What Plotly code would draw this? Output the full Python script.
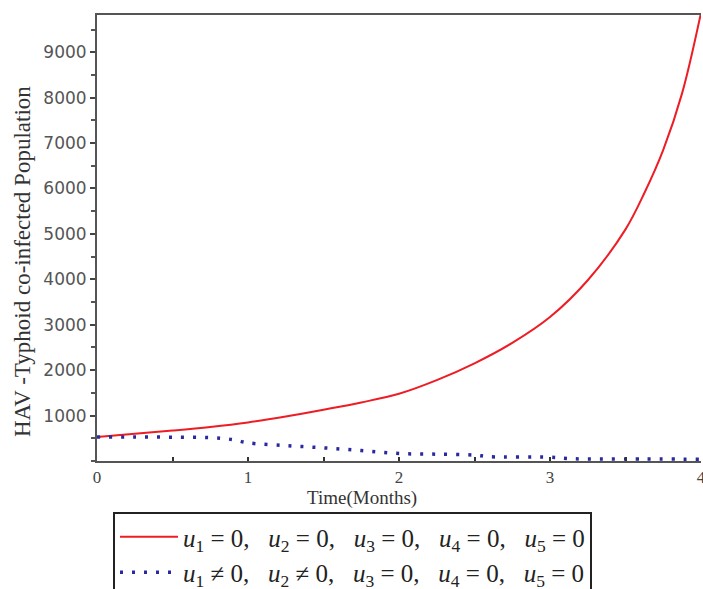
import plotly.graph_objects as go

# Time in months
t_no_control = [0, 0.25, 0.5, 0.75, 1.0, 1.25, 1.5, 1.75, 2.0, 2.25, 2.5, 2.75,
                3.0, 3.25, 3.5, 3.625, 3.75, 3.875, 4.0]
# Co-infected population without any control
pop_no_control = [530, 600, 670, 750, 850, 980, 1130, 1290, 1480, 1780, 2150, 2600,
                  3170, 3980, 5100, 5900, 6850, 8100, 9870]

t_control = [0, 0.25, 0.5, 0.75, 0.9, 1.0, 1.25, 1.5, 1.75, 2.0, 2.25, 2.5,
             2.6, 3.0, 3.15, 3.5, 4.0]
# Co-infected population with u1, u2 active
pop_control = [530, 530, 525, 515, 470, 400, 340, 290, 230, 165, 150, 130,
               95, 85, 50, 45, 40]

sp = "&nbsp;"
gap = "&nbsp;" * 3


def control_label(rel1, rel2):
    parts = [
        f"<i>u</i><sub>1</sub>{sp}{rel1}{sp}0",
        f"<i>u</i><sub>2</sub>{sp}{rel2}{sp}0",
        f"<i>u</i><sub>3</sub>{sp}={sp}0",
        f"<i>u</i><sub>4</sub>{sp}={sp}0",
        f"<i>u</i><sub>5</sub>{sp}={sp}0",
    ]
    return ("," + gap).join(parts)


label_a = control_label("=", "=")
label_b = control_label("≠", "≠")

x_ticks = [0, 1, 2, 3, 4]
y_ticks = [1000, 2000, 3000, 4000, 5000, 6000, 7000, 8000, 9000]

fig = go.Figure()
fig.add_trace(go.Scatter(x=t_no_control, y=pop_no_control, mode="lines",
                         line=dict(color="#ee1c24", width=2, shape="spline"),
                         name=label_a))
fig.add_trace(go.Scatter(x=t_control, y=pop_control, mode="lines",
                         line=dict(color="#2a2aa0", width=3.5, dash="3px,9px",
                                   shape="spline"),
                         name=label_b))

serif = "Liberation Serif, Times New Roman, serif"

L, R, T, B = 97, 2, 15, 128
W, H = 703, 589
pw, ph = W - L - R, H - T - B

fig.update_layout(
    width=W, height=H,
    margin=dict(l=L, r=R, t=T, b=B, autoexpand=False),
    paper_bgcolor="white", plot_bgcolor="white",
    showlegend=True,
    legend=dict(
        x=(113 - L) / pw, y=(T + ph - 512) / ph, xanchor="left", yanchor="top",
        bordercolor="#222", borderwidth=2, bgcolor="white",
        font=dict(family=serif, size=25, color="#222"),
        itemwidth=58, tracegroupgap=0,
    ),
    xaxis=dict(
        range=[0, 4], tickvals=x_ticks, ticktext=[str(v) for v in x_ticks],
        ticks="inside", ticklen=4, tickwidth=2, tickcolor="#333",
        minor=dict(dtick=0.5, ticks="inside", ticklen=4, tickcolor="#333"),
        showgrid=False, zeroline=False,
        showline=True, linecolor="#555", linewidth=2, mirror=True,
        ticklabeloverflow="allow",
        tickfont=dict(family=serif, size=17, color="#444"),
    ),
    yaxis=dict(
        range=[0, 9820], tickvals=y_ticks,
        ticks="outside", ticklen=5, tickwidth=2, tickcolor="#444",
        minor=dict(dtick=500, tick0=0, ticks="outside", ticklen=4, tickcolor="#555"),
        showgrid=False, zeroline=False,
        showline=True, linecolor="#555", linewidth=2, mirror=False,
        tickfont=dict(family="DejaVu Sans, Verdana, sans-serif", size=17, color="#555"),
    ),
    annotations=[
        dict(text="Time(Months)", x=(362 - L) / pw, xref="paper",
             y=(T + ph - 498) / ph, yref="paper", yanchor="middle",
             showarrow=False, font=dict(family=serif, size=19, color="#333")),
        dict(text="HAV -Typhoid co-infected Population", textangle=-90,
             x=(22 - L) / pw, xref="paper", y=(T + ph - 262) / ph, yref="paper",
             xanchor="center", yanchor="middle",
             showarrow=False, font=dict(family=serif, size=23, color="#333")),
    ],
)

fig.write_html("out.html")
